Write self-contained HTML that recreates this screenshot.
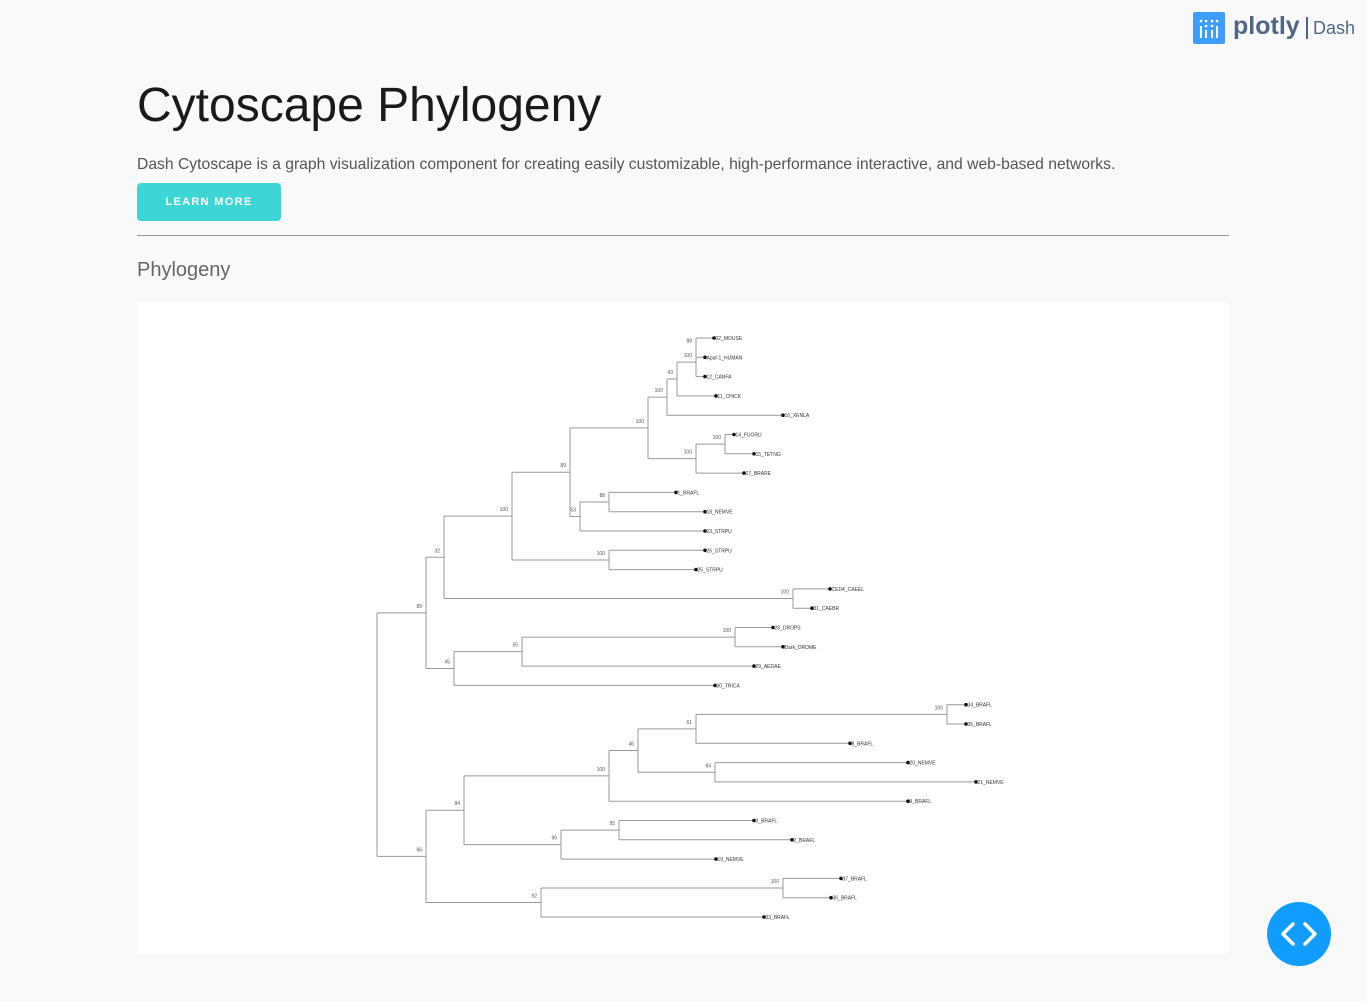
<!DOCTYPE html>
<html><head><meta charset="utf-8"><style>
body{margin:0;width:1366px;height:1001px;background:#f9f9f9;font-family:"Liberation Sans",sans-serif;position:relative;overflow:hidden}
.abs{position:absolute}
</style></head><body>
<div class="abs" style="left:1193px;top:12px;width:170px;height:32px">
 <div class="abs" style="left:0;top:0;width:32px;height:32px;background:#3f9dff;border-radius:2px">
  <svg width="32" height="32"><g fill="#fff"><circle cx="8" cy="9" r="1.3"/><circle cx="13" cy="9" r="1.3"/><circle cx="19" cy="9" r="1.3"/><circle cx="24" cy="9" r="1.3"/><circle cx="13" cy="14" r="1.3"/><circle cx="19" cy="14" r="1.3"/><rect x="7" y="14" width="2" height="12"/><rect x="12" y="18" width="2" height="8"/><rect x="18" y="18" width="2" height="8"/><rect x="23" y="14" width="2" height="12"/></g></svg>
 </div>
 <div class="abs" style="left:40px;top:0px;font-size:25px;font-weight:bold;color:#506784">plotly</div>
 <div class="abs" style="left:113px;top:5px;width:2px;height:22px;background:#506784"></div>
 <div class="abs" style="left:120px;top:6px;font-size:18px;color:#506784">Dash</div>
</div>
<div class="abs" style="left:137px;top:78px;font-size:48px;color:#1a1a1a">Cytoscape Phylogeny</div>
<div class="abs" style="left:137px;top:156px;font-size:15.7px;color:#555">Dash Cytoscape is a graph visualization component for creating easily customizable, high-performance interactive, and web-based networks.</div>
<div class="abs" style="left:137px;top:183px;width:144px;height:38px;background:#3dd5d5;border-radius:4px;color:#fff;font-size:11px;font-weight:bold;letter-spacing:1.3px;text-align:center;line-height:38px">LEARN MORE</div>
<div class="abs" style="left:137px;top:235px;width:1092px;height:1px;background:#999"></div>
<div class="abs" style="left:137px;top:259px;font-size:20px;color:#666">Phylogeny</div>
<div class="abs" style="left:137px;top:303px;width:1092px;height:650px;background:#fff"></div>
<svg class="abs" id="tree" style="left:0;top:0" width="1366" height="1001"></svg>
<div class="abs" style="left:1267px;top:902px;width:64px;height:64px;border-radius:50%;background:#119dff">
 <svg width="64" height="64"><path d="M26 22 L16 32 L26 42 M38 22 L48 32 L38 42" stroke="#fff" stroke-width="3.5" fill="none" stroke-linecap="round" stroke-linejoin="round"/></svg>
</div>
<script>
// internal nodes: id, parent, depth, support
const nodeIds=["root","A","B","C","D","E","F","G","H","I","J","K","L","M","N","O","P","Q","CE","R","S","T","U","V","W","X","Y","Z","AA","AB"];
const nodeParents=[null,"root","A","A","B","D","D","E","E","G","G","I","K","L","J","H","C","P","B","root","R","R","S","S","U","W","W","X","V","T"];
const nodeDepths=[0,49,67,77,135,193,232,271,203,290,319,300,319,319,348,232,145,358,416,49,87,164,232,184,261,319,338,570,242,406];
const nodeSupport=["","89","32","45","100","89","100","100","53","100","100","43","100","88","100","88","55","100","100","86","84","92","100","96","46","61","84","100","95","100"];
// leaves (top to bottom)
const leafNames=["02_MOUSE","Apaf-1_HUMAN","12_CANFA","11_CHICK","16_XENLA","14_FUGRU","15_TETNG","17_BRARE","1_BRAFL","18_NEMVE","23_STRPU","26_STRPU","25_STRPU","CED4_CAEEL","31_CAEBR","28_DROPS","Dark_DROME","29_AEDAE","30_TRICA","34_BRAFL","35_BRAFL","8_BRAFL","20_NEMVE","21_NEMVE","9_BRAFL","3_BRAFL","2_BRAFL","19_NEMVE","37_BRAFL","36_BRAFL","33_BRAFL"];
const leafParents=["M","M","L","K","I","N","N","J","O","O","H","F","F","CE","CE","Q","Q","P","C","Z","Z","X","Y","Y","U","AA","AA","V","AB","AB","T"];
const leafDepths=[337,328,328,339,406,357,377,367,299,328,328,328,319,453,435,396,406,377,338,589,589,473,531,599,531,377,415,339,464,454,387];

const svg=document.getElementById('tree');
const NS="http://www.w3.org/2000/svg";
const X0=377,Y0=338,ROW=19.3;
const xs=d=>X0+d, ys=i=>Y0+i*ROW;
const pos={},kids={};
nodeIds.forEach((id,i)=>{kids[id]=[];});
nodeIds.forEach((id,i)=>{if(nodeParents[i])kids[nodeParents[i]].push(id);});
leafNames.forEach((n,i)=>{pos["leaf"+i]={x:xs(leafDepths[i]),y:ys(i)};kids[leafParents[i]].push("leaf"+i);});
function yOf(id){
 if(pos[id])return pos[id].y;
 const ch=kids[id].map(yOf);
 const i=nodeIds.indexOf(id);
 pos[id]={x:xs(nodeDepths[i]),y:(Math.min(...ch)+Math.max(...ch))/2,lo:Math.min(...ch),hi:Math.max(...ch)};
 return pos[id].y;
}
yOf("root");
function el(t,a){const e=document.createElementNS(NS,t);for(const k in a)e.setAttribute(k,a[k]);svg.appendChild(e);return e;}
nodeIds.forEach((id,i)=>{
 const p=pos[id];
 const v=el('line',{x1:p.x,y1:p.lo,x2:p.x,y2:p.hi,stroke:'#999','stroke-width':1});
 
 
 kids[id].forEach(c=>{
  const h=el('line',{x1:p.x,y1:pos[c].y,x2:pos[c].x,y2:pos[c].y,stroke:'#999','stroke-width':1});
  
  
 });
 if(nodeSupport[i]){
  const t=el('text',{x:p.x-4,y:p.y-5,'font-size':5,'text-anchor':'end',fill:'#555','font-family':'Liberation Sans, sans-serif'});
  t.textContent=nodeSupport[i];
  
  
 }
});
leafNames.forEach((n,i)=>{
 const p=pos["leaf"+i];
 const c=el('circle',{cx:p.x,cy:p.y,r:1.8,fill:'#111'});
 
 
 const t=el('text',{x:p.x+1.5,y:p.y+2,'font-size':5,fill:'#333','font-family':'Liberation Sans, sans-serif'});
 t.textContent=n;
 
 
});
</script>
</body></html>
